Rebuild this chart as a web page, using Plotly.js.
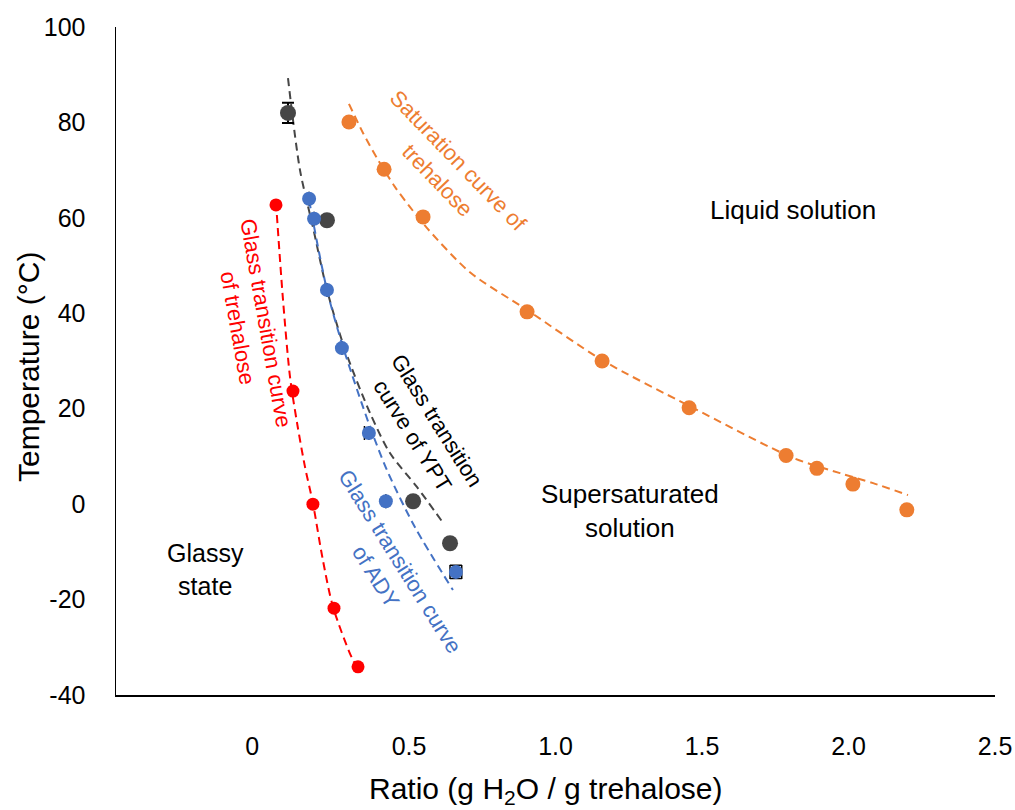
<!DOCTYPE html>
<html>
<head>
<meta charset="utf-8">
<script src="https://cdn.plot.ly/plotly-3.0.1.min.js"></script>
<style>html,body{margin:0;padding:0;background:#fff;}#chart{width:1015px;height:810px;}</style>
</head>
<body>
<div id="chart"></div>
<script>
// ---- data ----
// Saturation curve of trehalose (orange)
const satX = [0.295, 0.415, 0.548, 0.903, 1.159, 1.456, 1.787, 1.892, 2.015, 2.199];
const satY = [80.1, 70.2, 60.2, 40.3, 30.0, 20.2, 10.2, 7.5, 4.2, -1.2];
const satTrendX = [0.295, 0.343, 0.391, 0.452, 0.503, 0.561, 0.708, 0.903, 1.159, 1.456, 1.811, 1.971, 2.084, 2.203];
const satTrendY = [83.9, 77.8, 72.5, 66.5, 62.3, 57.9, 48.6, 40.7, 30.2, 20.6, 9.7, 6.5, 4.4, 1.9];

// Glass transition of trehalose (red)
const trehX = [0.046, 0.104, 0.172, 0.244, 0.326];
const trehY = [62.7, 23.7, 0.0, -21.8, -34.1];
const trehTrendX = [0.049, 0.070, 0.094, 0.118, 0.145, 0.172, 0.206, 0.241, 0.309, 0.326];
const trehTrendY = [60.6, 42.8, 26.6, 17.0, 7.8, 0.2, -11.7, -21.6, -32.7, -34.1];

// Glass transition of YPT (dark grey)
const yptX = [0.087, 0.220, 0.514, 0.640];
const yptY = [82.0, 59.5, 0.6, -8.2];
const yptErrY = [2.1, null, null, null];
const yptTrendX = [0.087, 0.128, 0.172, 0.220, 0.282, 0.367, 0.435, 0.527, 0.616];
const yptTrendY = [89.3, 70.0, 58.1, 44.9, 32.3, 19.1, 10.7, 3.6, -3.9];

// Glass transition of ADY (blue)
const adyX = [0.159, 0.176, 0.220, 0.271, 0.363, 0.421, 0.660];
const adyY = [64.0, 59.8, 44.9, 32.7, 14.9, 0.6, -14.2];
const adyErrXPlus = [null, null, null, null, 0.0, null, 0.02];
const adyErrXMinus = [null, null, null, null, 0.015, null, 0.02];
const adyErrY = [null, null, null, null, null, null, 1.4];
const adyTrendX = [0.159, 0.220, 0.275, 0.367, 0.425, 0.520, 0.650];
const adyTrendY = [63.7, 44.9, 32.9, 16.2, 7.1, -4.8, -18.0];

// axis ticks
const xTickVals = [0, 0.5, 1.0, 1.5, 2.0, 2.5];
const xTickText = ["0\u00a0\u00a0\u00a0", "0.5", "1.0", "1.5", "2.0", "2.5"];
const yTickVals = [-40, -20, 0, 20, 40, 60, 80, 100];
const yTickText = ["-40", "-20", "0", "20", "40", "60", "80", "100"];

// ---- colours ----
const ORANGE = "#ED7D31", RED = "#FF0000", GREY = "#464646", BLUE = "#4472C4";
const FONT = "Liberation Sans, Arial, sans-serif";
const DASH = "8px,5px";

function trend(x, y, color) {
  return {x: x, y: y, type: "scatter", mode: "lines", hoverinfo: "skip",
    line: {color: color, width: 2, dash: DASH, shape: "spline", smoothing: 0.8}, showlegend: false};
}

const traces = [
  trend(satTrendX, satTrendY, ORANGE),
  trend(trehTrendX, trehTrendY, RED),
  trend(yptTrendX, yptTrendY, GREY),
  trend(adyTrendX, adyTrendY, BLUE),
  {x: satX, y: satY, type: "scatter", mode: "markers", showlegend: false,
    marker: {color: ORANGE, size: 15}},
  {x: trehX, y: trehY, type: "scatter", mode: "markers", showlegend: false,
    marker: {color: RED, size: 13}},
  {x: yptX, y: yptY, type: "scatter", mode: "markers", showlegend: false,
    marker: {color: GREY, size: 16},
    error_y: {type: "data", array: yptErrY, visible: true, color: "#000", thickness: 2, width: 6}},
  {x: adyX, y: adyY, type: "scatter", mode: "markers", showlegend: false,
    marker: {color: BLUE, size: 14},
    error_x: {type: "data", array: adyErrXPlus, arrayminus: adyErrXMinus, symmetric: false, visible: true, color: "#000", thickness: 1.5, width: 7},
    error_y: {type: "data", array: adyErrY, visible: true, color: "#000", thickness: 1.5, width: 6}}
];

function note(text, x, y, color, angle, size) {
  return {text: text, x: x, y: y, xref: "x", yref: "y", showarrow: false,
    textangle: angle, align: "center", xanchor: "center", yanchor: "middle",
    font: {family: FONT, size: size, color: color}};
}

const layout = {
  width: 1015, height: 810,
  margin: {l: 116, r: 20, t: 27, b: 115},
  paper_bgcolor: "#fff", plot_bgcolor: "#fff",
  font: {family: FONT, color: "#000"},
  showlegend: false,
  xaxis: {range: [-0.5, 2.5], tickvals: xTickVals, ticktext: xTickText,
    showline: true, linecolor: "#000", linewidth: 1.5, showgrid: false, zeroline: false,
    ticks: "", ticklabelstandoff: 28, tickfont: {family: FONT, size: 25, color: "#000"}},
  yaxis: {range: [-40, 100], tickvals: yTickVals, ticktext: yTickText,
    showline: true, linecolor: "#000", linewidth: 1.5, showgrid: false, zeroline: false,
    ticks: "", ticklabelstandoff: 24, tickfont: {family: FONT, size: 25, color: "#000"}},
  annotations: [
    {text: "Temperature (°C)", xref: "paper", yref: "paper", x: -0.1001, y: 0.491,
      textangle: -90, showarrow: false, xanchor: "center", yanchor: "middle",
      font: {family: FONT, size: 30, color: "#000"}},
    {text: "Ratio (g H<sub>2</sub>O / g trehalose)", xref: "paper", yref: "paper", x: 0.489, y: -0.1437,
      showarrow: false, xanchor: "center", yanchor: "middle",
      font: {family: FONT, size: 30, color: "#000"}},
    note("Saturation curve of<br>trehalose", 0.633, 69.8, ORANGE, 46, 22),
    note("Liquid solution", 1.81, 61.6, "#000", 0, 26),
    note("Glass transition curve<br>of trehalose", -0.036, 37.4, RED, 80, 22),
    note("Glass transition<br>curve of YPT", 0.553, 16.0, "#000", 58, 22),
    note("Supersaturated<br>solution", 1.254, -1.4, "#000", 0, 26),
    note("Glass transition curve<br>of ADY", 0.427, -13.6, BLUE, 58, 22),
    note("Glassy<br>state", -0.196, -13.8, "#000", 0, 25)
  ]
};

Plotly.newPlot("chart", traces, layout, {displayModeBar: false, staticPlot: true});
</script>
</body>
</html>
